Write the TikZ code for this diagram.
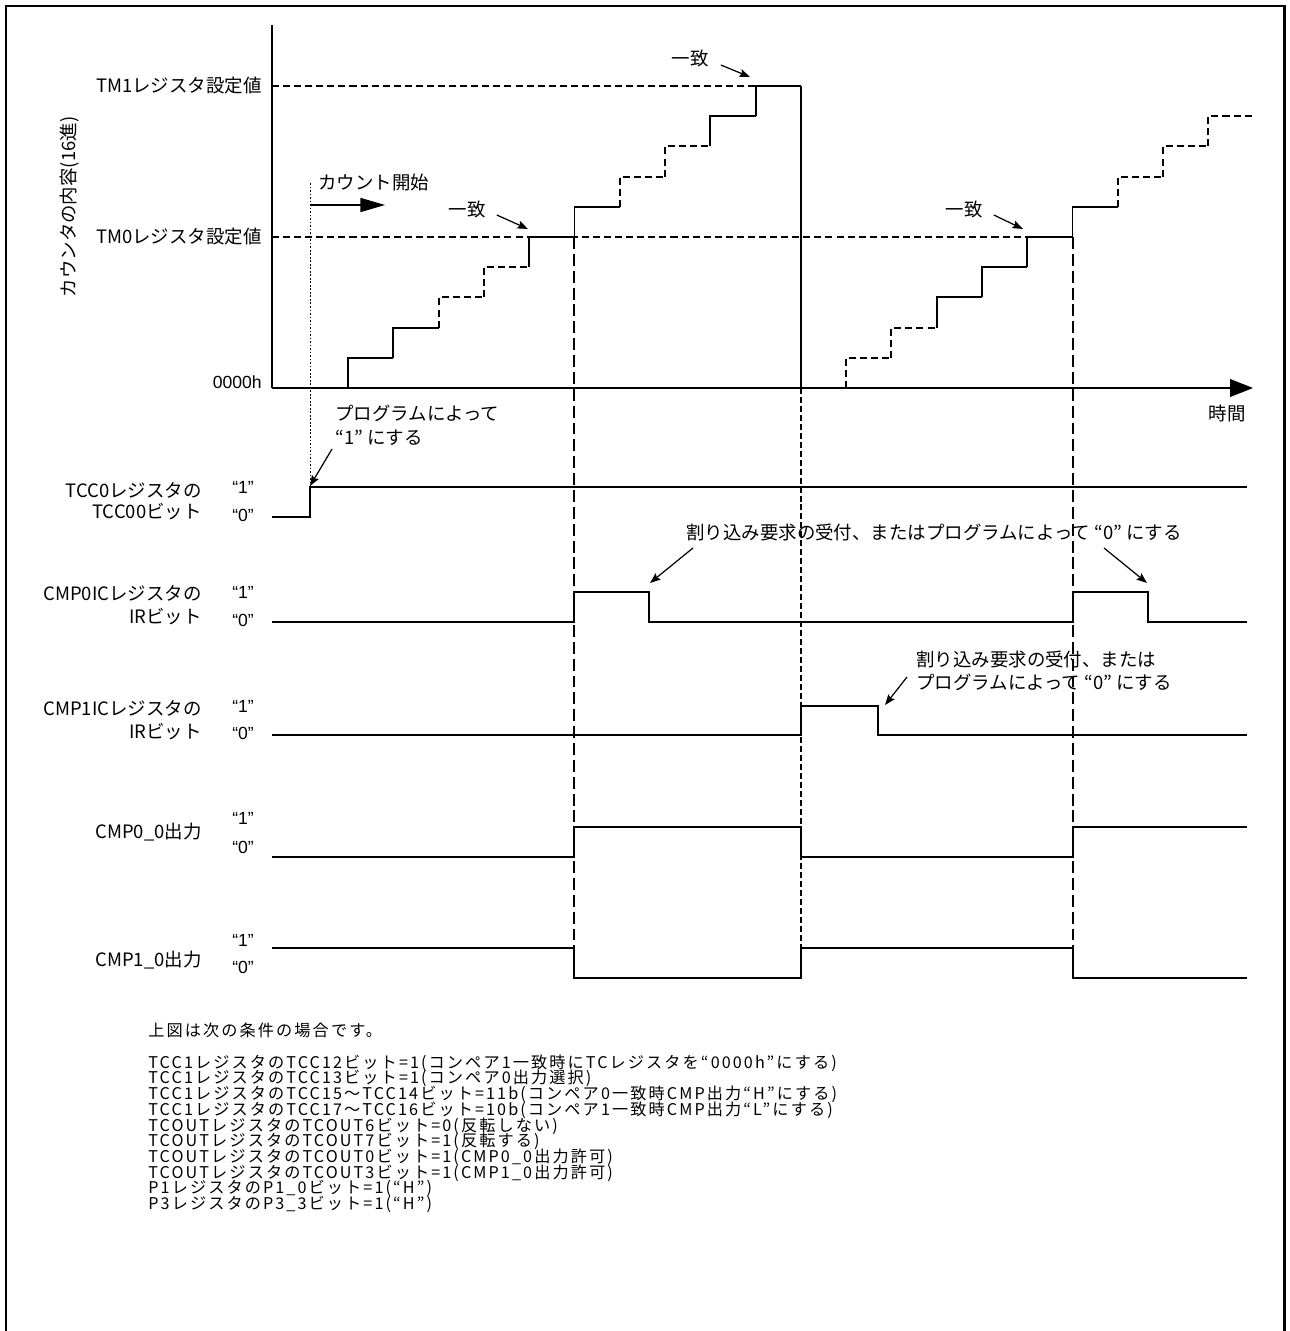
\documentclass[tikz,border=0pt]{standalone}
\usepackage{fontspec}
\setmainfont{Noto Sans CJK JP}
\newfontfamily\arialfont{Liberation Sans}
\newfontfamily\condfont[LetterSpace=13]{Noto Sans CJK JP}
\usetikzlibrary{arrows.meta, positioning}
\tikzset{
  boxline/.style = {line width=1.7pt},
  wave/.style    = {line width=1.1pt, line join=miter},
  dwave/.style   = {line width=1.2pt, dash pattern=on 4pt off 2.3pt},
  guide/.style   = {line width=1.4pt, dash pattern=on 6.8pt off 2.8pt},
  sguide/.style  = {line width=1.3pt, dash pattern=on 3.4pt off 1.7pt},
  lbl/.style     = {font=\fontsize{10.5}{13.6}\selectfont, inner sep=0pt},
  lvl/.style     = {font=\arialfont\fontsize{10}{12}\selectfont, inner sep=0pt},
  cond/.style    = {font=\condfont\fontsize{9.2}{10}\selectfont, inner sep=0pt, anchor=west},
  callout/.style = {-{Stealth[length=6pt, width=4.5pt, inset=1pt]}, line width=0.7pt},
}

\begin{document}
\begin{tikzpicture}[x=0.02cm, y=-0.02cm]
  \useasboundingbox (0,0) rectangle (1289,1331);
  \draw[boxline] (6,6) rectangle (1284,1345);

  % counter
  \draw[wave] (272,25) -- (272,388);
  \draw[wave, -{Triangle[length=13pt, width=10pt]}] (272,388) -- (1253,388);
  \draw[dwave] (272,86) -- (756,86);
  \draw[dwave] (272,237) -- (1028,237);
  \foreach \k/\st in {0/wave,1/wave,2/dwave,3/dwave,4/wave,5/wave,6/dwave,7/dwave,8/wave,9/wave}
    \draw[\st] ({348+45.3*\k},{388-30.2*\k}) |- ({393.3+45.3*\k},{357.8-30.2*\k});
  \draw[wave] (801,86) -- (801,388);
  \foreach \k/\st in {0/dwave,1/dwave,2/wave,3/wave,4/wave,5/wave,6/dwave,7/dwave,8/dwave}
    \draw[\st] ({846+45.3*\k},{388-30.2*\k}) |- ({891.3+45.3*\k},{357.8-30.2*\k});

  \draw[guide] (574,237) -- (574,948);
  \draw[sguide] (801,388) -- (801,948);
  \draw[guide] (1073,237) -- (1073,948);

  \node[lbl, anchor=east] (tm1) at (262,86) {TM1レジスタ設定値};
  \node[lbl, anchor=east] (tm0) at (262,237) {TM0レジスタ設定値};
  \node[lvl, anchor=east] (zero) at (262,382) {0000h};
  \node[lbl, rotate=90] (yax) at (70,207) {カウンタの内容(16進)};
  \node[lbl] (time) at (1227,413) {時間};

  \node[lbl, anchor=west] (start) at (318,183) {カウント開始};
  \draw[line width=0.5pt, dash pattern=on 1pt off 1pt] (310,183) -- (310,487);
  \draw[line width=0.7pt, -{Triangle[length=14pt, width=8pt]}] (310,205) -- (385,205);

  \node[lbl] (m1) at (690,59) {一致};
  \node[lbl] (m0a) at (467,210) {一致};
  \node[lbl] (m0b) at (964,210) {一致};
  \coordinate (m1t) at (750,77);
  \coordinate (m0at) at (528,229);
  \coordinate (m0bt) at (1023,229);
  \draw[callout] (m1.east) ++(12,6) -- (m1t);
  \draw[callout] (m0a.east) ++(11,5) -- (m0at);
  \draw[callout] (m0b.east) ++(11,5) -- (m0bt);

  % signals
  \draw[wave] (272,517) -- (310,517) -- (310,487) -- (1247,487);
  \draw[wave] (272,622) -- (574,622) -- (574,592) -- (649,592) -- (649,622)
    -- (1073,622) -- (1073,592) -- (1148,592) -- (1148,622) -- (1247,622);
  \draw[wave] (272,735) -- (801,735) -- (801,706) -- (878,706) -- (878,735) -- (1247,735);
  \draw[wave] (272,857) -- (574,857) -- (574,827) -- (801,827) -- (801,857)
    -- (1073,857) -- (1073,827) -- (1247,827);
  \draw[wave] (272,948) -- (574,948) -- (574,978) -- (801,978) -- (801,948)
    -- (1073,948) -- (1073,978) -- (1247,978);

  \node[lbl, anchor=east] (tcc0a) at (202,490) {TCC0レジスタの};
  \node[lbl, anchor=east] (tcc0b) at (202,512) {TCC00ビット};
  \node[lbl, anchor=east] (ic0a) at (202,593) {CMP0ICレジスタの};
  \node[lbl, anchor=east] (ic0b) at (202,617) {IRビット};
  \node[lbl, anchor=east] (ic1a) at (202,708) {CMP1ICレジスタの};
  \node[lbl, anchor=east] (ic1b) at (202,732) {IRビット};
  \node[lbl, anchor=east] (out0) at (202,832) {CMP0\_0出力};
  \node[lbl, anchor=east] (out1) at (202,960) {CMP1\_0出力};
  \foreach \n/\ya/\yb in {tcc/487/515, ic0/592/620, ic1/706/733, out0/818/847, out1/940/967} {
    \node[lvl] (\n h) at (243,\ya) {“1”};
    \node[lvl] (\n l) at (243,\yb) {“0”};
  }

  \node[lbl, anchor=west, align=left] (prog) at (335,425) {プログラムによって\\ “1” にする};
  \coordinate (progt) at (310,486);
  \draw[callout] (332,449) -- (progt);

  \node[lbl, anchor=west] (irq0) at (686,532) {割り込み要求の受付、またはプログラムによって “0” にする};
  \coordinate (irq0s) at (693,548);
  \coordinate (irq0t) at (650,583);
  \coordinate (irq0u) at (1104,548);
  \coordinate (irq0v) at (1147,583);
  \draw[callout] (irq0s) -- (irq0t);
  \draw[callout] (irq0u) -- (irq0v);

  \node[lbl, anchor=west, align=left, font=\fontsize{10.5}{13}\selectfont] (irq1) at (916,671)
    {割り込み要求の受付、または\\プログラムによって “0” にする};
  \coordinate (irq1s) at (907,677);
  \coordinate (irq1t) at (885,705);
  \draw[callout] (irq1s) -- (irq1t);

  % conditions
  \node[cond] (head) at (148,1030) {上図は次の条件の場合です。};
  \foreach \t [count=\i] in {
    TCC1レジスタのTCC12ビット=1(コンペア1一致時にTCレジスタを“0000h”にする),
    TCC1レジスタのTCC13ビット=1(コンペア0出力選択),
    TCC1レジスタのTCC15～TCC14ビット=11b(コンペア0一致時CMP出力“H”にする),
    TCC1レジスタのTCC17～TCC16ビット=10b(コンペア1一致時CMP出力“L”にする),
    TCOUTレジスタのTCOUT6ビット=0(反転しない),
    TCOUTレジスタのTCOUT7ビット=1(反転する),
    TCOUTレジスタのTCOUT0ビット=1(CMP0\_0出力許可),
    TCOUTレジスタのTCOUT3ビット=1(CMP1\_0出力許可),
    P1レジスタのP1\_0ビット=1(“H”),
    P3レジスタのP3\_3ビット=1(“H”)}
    \node[cond] (cnd\i) at (148,{1063+15.7*(\i-1)}) {\t};
\end{tikzpicture}
\end{document}
